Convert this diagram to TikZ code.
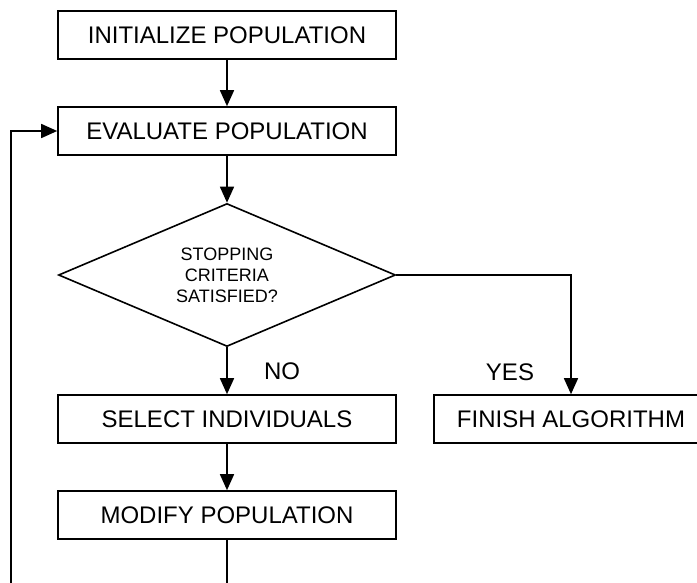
\documentclass[tikz,border=0pt]{standalone}
\usepackage{fontspec}
\setmainfont{Liberation Sans}
\usetikzlibrary{shapes,arrows.meta,positioning}

\begin{document}
\begin{tikzpicture}[x=1pt,y=-1pt,line width=1.6pt,
                    every node/.append style={font=\fontsize{24}{28}\selectfont},
                    box/.style={draw,rectangle,minimum width=338pt,minimum height=48pt,inner sep=0pt},
                    test/.style={draw,diamond,aspect=2.36,minimum width=337pt,minimum height=143pt,
                                 inner sep=0pt,align=center,font=\fontsize{18}{21}\selectfont},
                    flow/.style={-{Triangle[length=16pt,width=14pt]}}]
    \useasboundingbox (0,0) rectangle (697,582);
    \clip (0,0) rectangle (697,582);
    \node[box] (init) at (227,35) {INITIALIZE POPULATION};
    \node[box] (eval) at (227,131) {EVALUATE POPULATION};
    \node[test] (stop) at (227,275) {STOPPING\\CRITERIA\\SATISFIED?};
    \node[box] (select) at (227,419) {SELECT INDIVIDUALS};
    \node[box] (modify) at (227,515) {MODIFY POPULATION};
    \node[box,minimum width=274pt] (finish) at (571,419) {FINISH ALGORITHM};
    \node (no) at (282,371) {NO};
    \node (yes) at (510,372) {YES};
    \coordinate (below) at (227,600);
    \coordinate (corner) at (11,600);
    \draw[flow] (init) -- (eval);
    \draw[flow] (eval) -- (stop);
    \draw[flow] (stop) -- (select);
    \draw[flow] (stop) -| (finish);
    \draw[flow] (select) -- (modify);
    \draw[flow] (modify) -- (below) -- (corner) |- (eval);
\end{tikzpicture}
\end{document}
